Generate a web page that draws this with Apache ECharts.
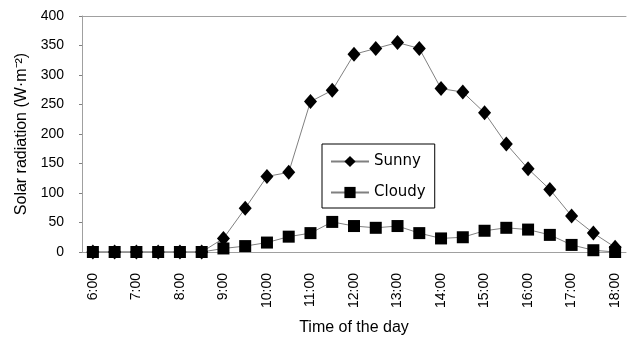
<!DOCTYPE html>
<html lang="en">
<head>
    <meta charset="UTF-8">
    <title>Solar radiation</title>
    <script src="https://cdn.jsdelivr.net/npm/echarts@6/dist/echarts.min.js"></script>
    <style>
        html, body { margin: 0; padding: 0; background: #fff; }
        #charts { width: 627px; height: 342px; }
    </style>
</head>
<body>
<div id="charts"></div>
<script>
    var times = ['6:00','6:30','7:00','7:30','8:00','8:30','9:00','9:30','10:00','10:30','11:00','11:30','12:00',
                 '12:30','13:00','13:30','14:00','14:30','15:00','15:30','16:00','16:30','17:00','17:30','18:00'];
    var sunny = [0,0,0,0,0,0,23,74,128,135,255,274,335,345,355,345,277,271,236,183,141,106,61,32,8];
    var cloudy = [0,0,0,0,0,0,6,10,16,26,32,51,44,41,44,32,23,25,36,41,38,29,12,3,0];
    var yTicks = [0,50,100,150,200,250,300,350,400];

    var axisGray = '#a0a0a0';
    var font = 'Liberation Sans, Arial, sans-serif';

    var myChart = echarts.init(document.getElementById('charts'));
    var option = {
        animation: false,
        grid: { left: 82, right: 1, top: 16, bottom: 90 },
        legend: {
            orient: 'vertical',
            left: 322,
            top: 144,
            padding: [10, 9, 8, 8],
            itemGap: 16,
            itemWidth: 38,
            itemHeight: 14,
            borderColor: '#000',
            borderWidth: 1,
            textStyle: { fontFamily: 'DejaVu Sans', fontSize: 15, color: '#000' },
            data: ['Sunny', 'Cloudy']
        },
        xAxis: [{
            type: 'category',
            data: times,
            boundaryGap: true,
            name: 'Time of the day',
            nameLocation: 'middle',
            nameGap: 68,
            nameTextStyle: { fontFamily: font, fontSize: 16, color: '#000' },
            axisLine: { lineStyle: { color: axisGray, width: 1 } },
            axisTick: { inside: true, length: 5, interval: 0, lineStyle: { color: '#808080' } },
            axisLabel: { interval: 1, rotate: 90, margin: 21, fontFamily: font, fontSize: 14, color: '#000' },
            splitLine: { show: false }
        }, {
            type: 'category',
            data: times,
            position: 'top',
            axisLine: { lineStyle: { color: axisGray, width: 1 } },
            axisTick: { show: false },
            axisLabel: { show: false }
        }],
        yAxis: {
            type: 'value',
            min: yTicks[0],
            max: yTicks[yTicks.length - 1],
            interval: 50,
            name: 'Solar radiation (W·m⁻²)',
            nameLocation: 'middle',
            nameGap: 48,
            nameTextStyle: { fontFamily: font, fontSize: 16, color: '#000' },
            axisLine: { show: true, lineStyle: { color: axisGray, width: 1 } },
            axisTick: { show: true, length: 3, lineStyle: { color: '#808080' } },
            axisLabel: { margin: 18, fontFamily: font, fontSize: 14, color: '#000' },
            splitLine: { show: false }
        },
        series: [{
            name: 'Sunny',
            type: 'line',
            data: sunny,
            symbol: 'diamond',
            symbolSize: [13, 15],
            showAllSymbol: true,
            lineStyle: { color: '#808080', width: 1 },
            itemStyle: { color: '#000' },
            z: 3
        }, {
            name: 'Cloudy',
            type: 'line',
            data: cloudy,
            symbol: 'rect',
            symbolSize: 12,
            showAllSymbol: true,
            lineStyle: { color: '#808080', width: 1 },
            itemStyle: { color: '#000' },
            z: 3
        }]
    };
    myChart.setOption(option);
</script>
</body>
</html>
